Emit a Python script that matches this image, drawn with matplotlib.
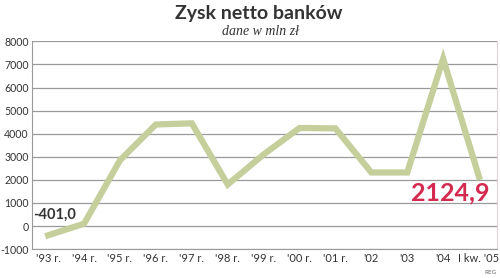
import matplotlib.pyplot as plt
import numpy as np

# dane: zysk netto banków [mln zł]
labels = ["'93 r.", "'94 r.", "'95 r.", "'96 r.", "'97 r.", "'98 r.", "'99 r.",
          "'00 r.", "'01 r.", "'02", "'03", "'04", "I kw. '05"]
values = [-401.0, 100, 2850, 4400, 4450, 1800, 3100, 4250, 4230, 2320, 2320, 7250, 2124.9]
yticks = [-1000, 0, 1000, 2000, 3000, 4000, 5000, 6000, 7000, 8000]

line_col = "#c5cf9b"
grid_col = "#9a9a9a"
red = "#d42a50"
txt = "#333333"

plt.rcParams['font.family'] = ['Lato', 'DejaVu Sans']

fig = plt.figure(figsize=(5.0, 2.78), dpi=100)
ax = fig.add_axes([0.064, 0.104, 0.93, 0.747])

x = np.arange(len(values))
ax.plot(x, values, color=line_col, linewidth=4.5, solid_joinstyle="miter", zorder=3)

ax.set_ylim(-1000, 8000)
ax.set_xlim(-0.45, len(values) - 0.5)
ax.set_yticks(yticks)
ax.set_yticklabels([str(v) for v in yticks])
ax.set_xticks(x)
ax.set_xticklabels(labels)
ax.tick_params(length=0, labelcolor=txt)
ax.tick_params(axis="y", pad=2.5, labelsize=7.6)
ax.tick_params(axis="x", pad=3, labelsize=8)
ax.grid(axis="y", color=grid_col, linewidth=0.9)
ax.set_axisbelow(True)
ax.spines["top"].set_visible(False)
ax.spines["left"].set_color(grid_col)
ax.spines["bottom"].set_color(grid_col)
ax.spines["right"].set_color("#e8d0d8")

ax.text(0.18, 480, "-401,0", fontsize=10.5, fontweight="bold", color=txt,
        ha="center", va="center", zorder=4)
ax.text(11.2, 1430, "2124,9", fontsize=18, fontweight="bold", color=red,
        ha="center", va="center", zorder=4)

fig.text(0.518, 0.95, "Zysk netto banków", fontsize=14, fontweight="bold",
         color=txt, ha="center", va="center")
fig.text(0.522, 0.888, "dane w mln zł", fontsize=10, style="italic", family="Liberation Serif",
         color=txt, ha="center", va="center")
fig.text(0.993, 0.02, "REG", fontsize=4.5, color="#666666", ha="right", va="center")

fig.savefig("out.png", dpi=100)
